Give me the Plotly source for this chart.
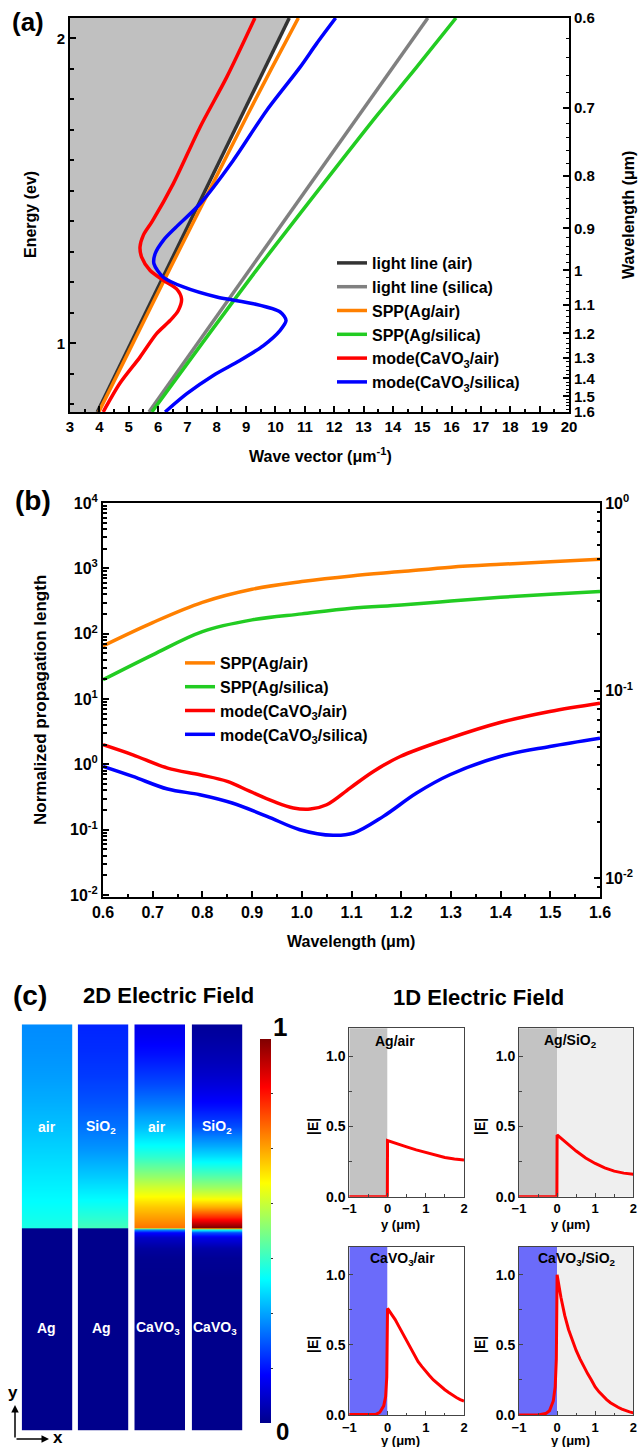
import plotly.graph_objects as go

W, H = 642, 1447
FONT = "Liberation Sans, Arial, sans-serif"

# ---------------- (a) dispersion data ----------------
E_range = [0.775, 2.067]          # eV (0.6 ... 1.6 um on right axis)
k_range = [3, 20]
lightair_E = [0.775, 2.067]
lightair_k = [3.93, 10.47]
lightsil_E = [0.775, 2.067]
lightsil_k = [5.69, 15.19]
sppair_E = [0.775, 1.0, 1.25, 1.5, 1.75, 1.9, 2.067]
sppair_k = [3.98, 5.14, 6.43, 7.74, 9.05, 9.86, 10.78]
sppsil_E = [0.775, 1.0, 1.25, 1.5, 1.75, 1.9, 2.067]
sppsil_k = [5.79, 7.50, 9.43, 11.44, 13.48, 14.76, 16.15]
modeair_k = [4.13, 4.70, 5.385, 5.95, 6.41, 6.69, 6.80, 6.63, 6.18, 5.73, 5.44, 5.385, 5.5, 5.8, 6.52, 7.43, 8.34, 9.30]
modeair_E = [0.775, 0.869, 0.955, 1.032, 1.075, 1.108, 1.146, 1.179, 1.207, 1.239, 1.283, 1.316, 1.355, 1.40, 1.524, 1.709, 1.873, 2.067]
modesil_k = [6.24, 6.98, 7.88, 8.79, 9.59, 10.16, 10.36, 10.16, 9.25, 8.0, 6.86, 6.18, 5.86, 5.9, 6.18, 6.6, 7.43, 8.56, 9.7, 10.84, 11.4, 12.05]
modesil_E = [0.775, 0.835, 0.895, 0.944, 0.993, 1.043, 1.075, 1.103, 1.130, 1.152, 1.185, 1.217, 1.261, 1.294, 1.338, 1.38, 1.458, 1.6, 1.764, 1.906, 1.983, 2.067]
k_ticks = list(range(3, 21))
E_ticks = [1, 2]
E_minor = [0.8, 0.9, 1.0, 1.1, 1.2, 1.3, 1.4, 1.5, 1.6, 1.7, 1.8, 1.9, 2.0]
wl_ticks = [0.6, 0.7, 0.8, 0.9, 1.0, 1.1, 1.2, 1.3, 1.4, 1.5, 1.6]
wl_labels = ["0.6", "0.7", "0.8", "0.9", "1", "1.1", "1.2", "1.3", "1.4", "1.5", "1.6"]
wl_minor = [round(0.6 + 0.02 * i, 2) for i in range(51)]
HC = 1.2398  # eV*um, wavelength <-> energy axis conversion

# ---------------- (b) propagation length data ----------------
wl_spp = [0.6, 0.7, 0.8, 0.9, 1.0, 1.1, 1.2, 1.3, 1.4, 1.5, 1.6]
L_sppair = [65, 148, 302, 479, 627, 766, 891, 1040, 1153, 1259, 1380]
L_sppsil = [19.7, 47.4, 107.6, 162.5, 201, 245, 275, 316, 361, 402, 441]
wl_cvair = [0.6, 0.66, 0.73, 0.795, 0.85, 0.896, 0.943, 0.983, 1.017, 1.05, 1.097, 1.144, 1.198, 1.298, 1.399, 1.499, 1.6]
L_cvair = [2.0, 1.40, 0.877, 0.693, 0.55, 0.385, 0.271, 0.215, 0.207, 0.241, 0.434, 0.780, 1.32, 2.52, 4.37, 6.46, 8.65]
wl_cvsil = [0.6, 0.66, 0.73, 0.795, 0.86, 0.93, 0.996, 1.063, 1.104, 1.164, 1.231, 1.298, 1.399, 1.499, 1.6]
L_cvsil = [0.93, 0.653, 0.419, 0.343, 0.256, 0.16, 0.10, 0.082, 0.089, 0.16, 0.364, 0.693, 1.32, 1.88, 2.52]
logL_ticks = [1e-2, 1e-1, 1e0, 1e1, 1e2, 1e3, 1e4]
logL_labels = ["10<sup>-2</sup>", "10<sup>-1</sup>", "10<sup>0</sup>", "10<sup>1</sup>", "10<sup>2</sup>", "10<sup>3</sup>", "10<sup>4</sup>"]
right_ticks = [1e-2, 1e-1, 1e0]
right_labels = ["10<sup>-2</sup>", "10<sup>-1</sup>", "10<sup>0</sup>"]

# ---------------- (c) field profiles ----------------
y_ag = [-2, -0.005, 0, 0.25, 0.5, 0.75, 1.0, 1.25, 1.5, 1.75, 2.0]
E_ag_air = [0, 0, 0.40, 0.376, 0.355, 0.334, 0.314, 0.295, 0.279, 0.268, 0.262]
E_ag_sio2 = [0, 0, 0.44, 0.381, 0.325, 0.276, 0.237, 0.205, 0.182, 0.168, 0.16]
y_cv = [-2, -0.5, -0.3, -0.2, -0.1, -0.05, -0.02, 0,
        0.1, 0.2, 0.3, 0.4, 0.5, 0.6, 0.7, 0.8, 0.9, 1.0,
        1.1, 1.2, 1.3, 1.4, 1.5, 1.6, 1.7, 1.8, 1.9, 2.0]
E_cv_air = [0, 0, 0.005, 0.02, 0.065, 0.13, 0.27, 0.76,
            0.72, 0.68, 0.63, 0.58, 0.52, 0.47, 0.42, 0.38, 0.345, 0.31,
            0.28, 0.25, 0.225, 0.20, 0.18, 0.16, 0.14, 0.125, 0.11, 0.10]
E_cv_sio2 = [0, 0, 0.01, 0.03, 0.10, 0.2, 0.4, 1.0,
             0.84, 0.71, 0.61, 0.53, 0.46, 0.40, 0.345, 0.295, 0.25, 0.20,
             0.165, 0.135, 0.11, 0.088, 0.07, 0.055, 0.042, 0.031, 0.022, 0.015]
sub_region = [-1, 0]
sup_region = [0, 2]
panels = [
    dict(y=y_ag, E=E_ag_air, top="air", bot="Ag", name="Ag/air", subc="#c3c3c3", supc="#ffffff"),
    dict(y=y_ag, E=E_ag_sio2, top="SiO<sub>2</sub>", bot="Ag", name="Ag/SiO<sub>2</sub>", subc="#c3c3c3", supc="#efefef"),
    dict(y=y_cv, E=E_cv_air, top="air", bot="CaVO<sub>3</sub>", name="CaVO<sub>3</sub>/air", subc="#6b6bfa", supc="#ffffff"),
    dict(y=y_cv, E=E_cv_sio2, top="SiO<sub>2</sub>", bot="CaVO<sub>3</sub>", name="CaVO<sub>3</sub>/SiO<sub>2</sub>", subc="#6b6bfa", supc="#efefef"),
]

C_AIR, C_SIL, C_ORA, C_GRN, C_RED, C_BLU = "#333333", "#808080", "#ff8000", "#22cc22", "#ff0000", "#0000ff"
jet = [[0, "rgb(0,0,140)"], [0.125, "rgb(0,0,255)"], [0.375, "rgb(0,255,255)"],
       [0.625, "rgb(255,255,0)"], [0.875, "rgb(255,0,0)"], [1, "rgb(128,0,0)"]]


def fx(p):
    return p / W


def fy(p):
    return 1 - p / H


def tf(size):
    return dict(family=FONT, size=size, color="black", weight="bold")


fig = go.Figure()

# ----- (a) -----
fig.add_trace(go.Scatter(x=[k_range[0]] + lightair_k + [k_range[0]],
                         y=[lightair_E[0]] + lightair_E + [lightair_E[1]],
                         fill="toself", fillcolor="#c0c0c0", line=dict(width=0),
                         mode="lines", showlegend=False, hoverinfo="skip", xaxis="x", yaxis="y"))
sa = [("light line (air)", lightair_k, lightair_E, C_AIR),
      ("light line (silica)", lightsil_k, lightsil_E, C_SIL),
      ("SPP(Ag/air)", sppair_k, sppair_E, C_ORA),
      ("SPP(Ag/silica)", sppsil_k, sppsil_E, C_GRN),
      ("mode(CaVO<sub>3</sub>/air)", modeair_k, modeair_E, C_RED),
      ("mode(CaVO<sub>3</sub>/silica)", modesil_k, modesil_E, C_BLU)]
for name, kk, ee, c in sa:
    fig.add_trace(go.Scatter(x=kk, y=ee, name=name, mode="lines",
                             line=dict(color=c, width=3.5, shape="spline", smoothing=0.8),
                             xaxis="x", yaxis="y", legend="legend"))
fig.add_trace(go.Scatter(x=[None], y=[None], xaxis="x", yaxis="y2", showlegend=False))

# ----- (b) -----
sb = [("SPP(Ag/air)", wl_spp, L_sppair, C_ORA),
      ("SPP(Ag/silica)", wl_spp, L_sppsil, C_GRN),
      ("mode(CaVO<sub>3</sub>/air)", wl_cvair, L_cvair, C_RED),
      ("mode(CaVO<sub>3</sub>/silica)", wl_cvsil, L_cvsil, C_BLU)]
for name, xx, yy, c in sb:
    fig.add_trace(go.Scatter(x=xx, y=yy, name=name, mode="lines",
                             line=dict(color=c, width=3.5, shape="spline", smoothing=1.0),
                             xaxis="x2", yaxis="y3", legend="legend2"))
fig.add_trace(go.Scatter(x=[None], y=[None], xaxis="x2", yaxis="y4", showlegend=False))

# ----- (c) heatmaps -----
hm_cols = [(21.7, 72.3), (77.7, 128.3), (134.3, 185.0), (191.7, 242.3)]
hm_y = (1024.3, 1430.7)
for i, p in enumerate(panels):
    fig.add_trace(go.Heatmap(z=[[v, v] for v in p["E"]], x=[0, 1], y=p["y"],
                             coloraxis="coloraxis", zsmooth="best", hoverinfo="skip",
                             xaxis="x%d" % (3 + i), yaxis="y%d" % (5 + i)))

# ----- (c) 1D plots -----
one_d = [((349.3, 464.0), (1028.3, 1196.7)), ((519.0, 633.3), (1028.3, 1196.7)),
         ((349.3, 464.0), (1246.7, 1415.0)), ((519.0, 633.3), (1246.7, 1415.0))]
for i, p in enumerate(panels):
    fig.add_trace(go.Scatter(x=p["y"], y=p["E"], mode="lines", showlegend=False,
                             line=dict(color=C_RED, width=3), hoverinfo="skip",
                             xaxis="x%d" % (7 + i), yaxis="y%d" % (9 + i)))

layout = dict(
    width=W, height=H, margin=dict(l=0, r=0, t=0, b=0, autoexpand=False),
    paper_bgcolor="white", plot_bgcolor="rgba(0,0,0,0)",
    font=dict(family=FONT, color="black"),
    showlegend=True,
)

axcommon = dict(showgrid=False, zeroline=False, showline=True, linecolor="black", linewidth=2,
                ticks="inside", ticklen=6, tickwidth=1.5, tickcolor="black", automargin=False)

layout["xaxis"] = dict(axcommon, domain=[fx(70), fx(569)], range=k_range, anchor="y",
                       tickvals=k_ticks, mirror=True, tickfont=tf(15),
                       minor=dict(dtick=0.5, tick0=3, ticks="inside", ticklen=3.5, tickwidth=1.5, tickcolor="black"))
layout["yaxis"] = dict(axcommon, domain=[fy(412), fy(18)], range=E_range, anchor="x",
                       tickvals=E_ticks, tickfont=tf(15),
                       minor=dict(tickvals=E_minor, ticks="inside", ticklen=3.5, tickwidth=1.5, tickcolor="black"))
layout["yaxis2"] = dict(axcommon, overlaying="y", side="right", range=E_range, anchor="x",
                        tickvals=[HC / w for w in wl_ticks], ticktext=wl_labels, tickfont=tf(15),
                        minor=dict(tickvals=[HC / w for w in wl_minor], ticks="inside", ticklen=3,
                                   tickwidth=1.2, tickcolor="black"))

layout["xaxis2"] = dict(axcommon, domain=[fx(103), fx(600)], range=[0.6, 1.6], anchor="y3",
                        dtick=0.1, tick0=0.6, tickformat=".1f", mirror=True, tickfont=tf(16),
                        minor=dict(dtick=0.05, tick0=0.6, ticks="inside", ticklen=3.5, tickwidth=1.5, tickcolor="black"))
log_minor = [m * 10 ** e for e in range(-3, 5) for m in range(2, 10)]
layout["yaxis3"] = dict(axcommon, domain=[fy(897), fy(503)], type="log", range=[-2.03, 4], anchor="x2",
                        tickvals=logL_ticks, ticktext=logL_labels, tickfont=tf(16),
                        minor=dict(tickvals=log_minor, ticks="inside", ticklen=3.5, tickwidth=1.5, tickcolor="black"))
layout["yaxis4"] = dict(axcommon, overlaying="y3", side="right", type="log", range=[-2.1, 0], anchor="x2",
                        tickvals=right_ticks, ticktext=right_labels, tickfont=tf(16),
                        minor=dict(tickvals=log_minor, ticks="inside", ticklen=3.5, tickwidth=1.5, tickcolor="black"))

hidden = dict(visible=False, showgrid=False, zeroline=False, fixedrange=True, automargin=False)
for i, (x0, x1) in enumerate(hm_cols):
    layout["xaxis%d" % (3 + i)] = dict(hidden, domain=[fx(x0), fx(x1)], range=[-0.5, 1.5], anchor="y%d" % (5 + i))
    layout["yaxis%d" % (5 + i)] = dict(hidden, domain=[fy(hm_y[1]), fy(hm_y[0])], range=[-2, 2], anchor="x%d" % (3 + i))

layout["coloraxis"] = dict(colorscale=jet, cmin=0, cmax=1,
                           colorbar=dict(x=fx(260), xanchor="left", xpad=0, y=fy(1423), yanchor="bottom", ypad=0,
                                         lenmode="pixels", len=384, thickness=11, outlinewidth=0,
                                         tickvals=[k / 7 for k in range(1, 7)], ticks="outside", ticklen=2,
                                         tickcolor="#333", showticklabels=False))

ax1d = dict(showgrid=False, zeroline=False, showline=True, linecolor="#444", linewidth=1, mirror=True,
            ticks="inside", ticklen=4, tickwidth=1, tickcolor="#444", automargin=False)
shapes = []
for i, ((x0, x1), (y0, y1)) in enumerate(one_d):
    xa, ya = "x%d" % (7 + i), "y%d" % (9 + i)
    layout["xaxis%d" % (7 + i)] = dict(ax1d, domain=[fx(x0), fx(x1)], range=[-1, 2], anchor=ya,
                                       tickvals=[-1, 0, 1, 2], tickfont=tf(13),
                                       minor=dict(dtick=0.5, tick0=-1, ticks="inside", ticklen=2.5, tickcolor="#444"))
    layout["yaxis%d" % (9 + i)] = dict(ax1d, domain=[fy(y1), fy(y0)], range=[0, 1.2], anchor=xa,
                                       tickvals=[0, 0.5, 1.0], tickformat=".1f", tickfont=tf(14),
                                       minor=dict(dtick=0.25, tick0=0, ticks="inside", ticklen=2.5, tickcolor="#444"))
    p = panels[i]
    shapes.append(dict(type="rect", xref=xa, yref=ya + " domain", x0=sub_region[0], x1=sub_region[1], y0=0, y1=1,
                       fillcolor=p["subc"], line=dict(width=0), layer="below"))
    shapes.append(dict(type="rect", xref=xa, yref=ya + " domain", x0=sup_region[0], x1=sup_region[1], y0=0, y1=1,
                       fillcolor=p["supc"], line=dict(width=0), layer="below"))
layout["shapes"] = shapes

layout["legend"] = dict(x=fx(332), y=fy(246), xanchor="left", yanchor="top", bgcolor="rgba(0,0,0,0)",
                        font=tf(16), tracegroupgap=0, itemwidth=30)
layout["legend2"] = dict(x=fx(180), y=fy(646), xanchor="left", yanchor="top", bgcolor="rgba(0,0,0,0)",
                         font=tf(16), tracegroupgap=0, itemwidth=30)


def ann(text, x, y, size, angle=0, color="black", bold=True):
    return dict(text=text, x=fx(x), y=fy(y), xref="paper", yref="paper", showarrow=False,
                textangle=angle, xanchor="center", yanchor="middle",
                font=dict(family=FONT, size=size, color=color, weight="bold" if bold else "normal"))


anns = [
    ann("(a)", 28, 22, 26),
    ann("Energy (ev)", 30, 215, 16, -90),
    ann("Wavelength (μm)", 628, 215, 16, -90),
    ann("Wave vector (μm<sup>-1</sup>)", 320, 455, 16),
    ann("(b)", 33, 500, 28),
    ann("Normalized propagation length", 40, 700, 17, -90),
    ann("Wavelength (μm)", 351, 941, 16),
    ann("(c)", 30, 995, 28),
    ann("2D Electric Field", 169, 995, 22),
    ann("1D Electric Field", 478, 997, 22),
    ann("1", 280, 1027, 26),
    ann("0", 282, 1431, 24),
    ann("y", 13, 1392, 17),
    ann("x", 58, 1437, 17),
]
top_lbl_x = [46.7, 101, 157, 217]
bot_lbl_x = [46.7, 101, 158, 215]
for i, p in enumerate(panels):
    anns.append(ann(p["top"], top_lbl_x[i], 1127, 14, color="white"))
    anns.append(ann(p["bot"], bot_lbl_x[i], 1328, 14, color="white"))
name_pos = [(395, 1041), (570, 1041), (402, 1259), (577, 1259)]
ee_pos = [(313, 1127), (480, 1127), (313, 1345), (480, 1345)]
ylab_pos = [(400, 1224), (570, 1224), (400, 1440), (570, 1440)]
for i, p in enumerate(panels):
    anns.append(ann(p["name"], name_pos[i][0], name_pos[i][1], 14))
    anns.append(ann("|E|", ee_pos[i][0], ee_pos[i][1], 14, -90))
    anns.append(ann("y (μm)", ylab_pos[i][0], ylab_pos[i][1], 13))
# axis arrows
anns.append(dict(x=fx(15), y=fy(1405), xref="paper", yref="paper", ax=0, ay=34, axref="pixel", ayref="pixel",
                 text="", showarrow=True, arrowhead=2, arrowsize=1, arrowwidth=1.5, arrowcolor="black"))
anns.append(dict(x=fx(49), y=fy(1439), xref="paper", yref="paper", ax=-34, ay=0, axref="pixel", ayref="pixel",
                 text="", showarrow=True, arrowhead=2, arrowsize=1, arrowwidth=1.5, arrowcolor="black"))
layout["annotations"] = anns

fig.update_layout(layout)
fig.write_html("out.html", config={"displayModeBar": False},
               post_script="document.body.style.margin='0';document.body.style.overflow='hidden';")
